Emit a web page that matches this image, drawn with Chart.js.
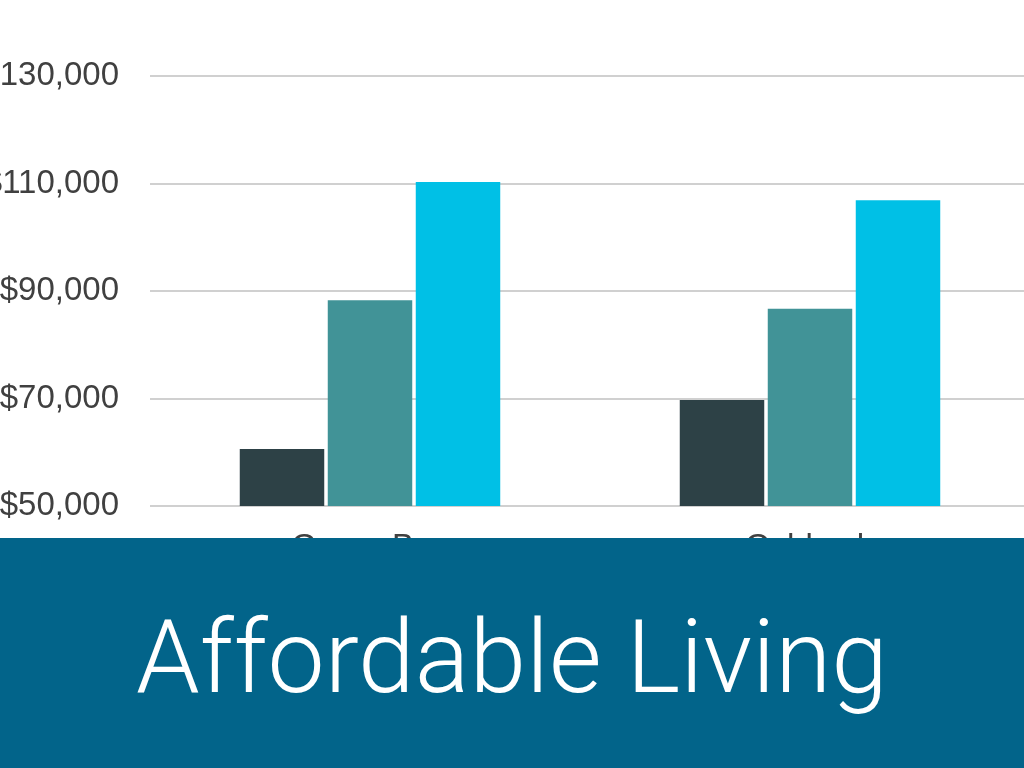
<!DOCTYPE html>
<html>
<head>
<meta charset="utf-8">
<script src="https://cdn.jsdelivr.net/npm/chart.js@4"></script>
<style>
  html, body { margin:0; padding:0; width:1024px; height:768px; overflow:hidden; background:#ffffff; }
  #wrap { position:absolute; left:-15px; top:0; width:1060px; height:566px; }
  #banner { position:absolute; left:0; top:538px; width:1024px; height:230px; background:#02648a; }
  #title { position:absolute; left:0; width:1024px; top:592px; text-align:center; color:#ffffff;
           font-family:Roboto, "Open Sans", sans-serif; font-weight:300; font-size:102px; line-height:130px; white-space:nowrap; }
</style>
</head>
<body>
<div id="wrap"><canvas id="c"></canvas></div>
<div id="banner"></div>
<div id="title">Affordable Living</div>
<script>
const categories = ["Green Bay", "Oshkosh"];
const seriesA = [60600, 69700];
const seriesB = [88300, 86700];
const seriesC = [110300, 106900];
const yTicks = [50000, 70000, 90000, 110000, 130000];

const ctx = document.getElementById('c');
new Chart(ctx, {
  type: 'bar',
  data: {
    labels: categories,
    datasets: [
      { label: 'A', data: seriesA, backgroundColor: '#2d4146' },
      { label: 'B', data: seriesB, backgroundColor: '#419397' },
      { label: 'C', data: seriesC, backgroundColor: '#00c0e6' }
    ]
  },
  options: {
    responsive: true,
    maintainAspectRatio: false,
    animation: false,
    layout: { padding: { top: 76, right: 15, bottom: 0, left: 0 } },
    plugins: { legend: { display: false }, tooltip: { enabled: false } },
    datasets: { bar: { categoryPercentage: 0.6, barPercentage: 0.96 } },
    scales: {
      x: {
        grid: { display: false },
        border: { display: false },
        ticks: { color: '#404040', font: { family: 'Liberation Sans, Arial, sans-serif', size: 33 }, padding: 14 },
        afterFit: (s) => { s.height = 60; }
      },
      y: {
        min: 50000, max: 130000,
        afterBuildTicks: (s) => { s.ticks = yTicks.map(v => ({ value: v })); },
        grid: { color: '#d0d0d0', lineWidth: 2, tickLength: 0 },
        border: { display: false },
        ticks: {
          color: '#404040', padding: 31,
          font: { family: 'Liberation Sans, Arial, sans-serif', size: 33 },
          callback: (v) => '$' + v.toLocaleString('en-US')
        },
        afterFit: (s) => { s.width = 165; }
      }
    }
  }
});
</script>
</body>
</html>
